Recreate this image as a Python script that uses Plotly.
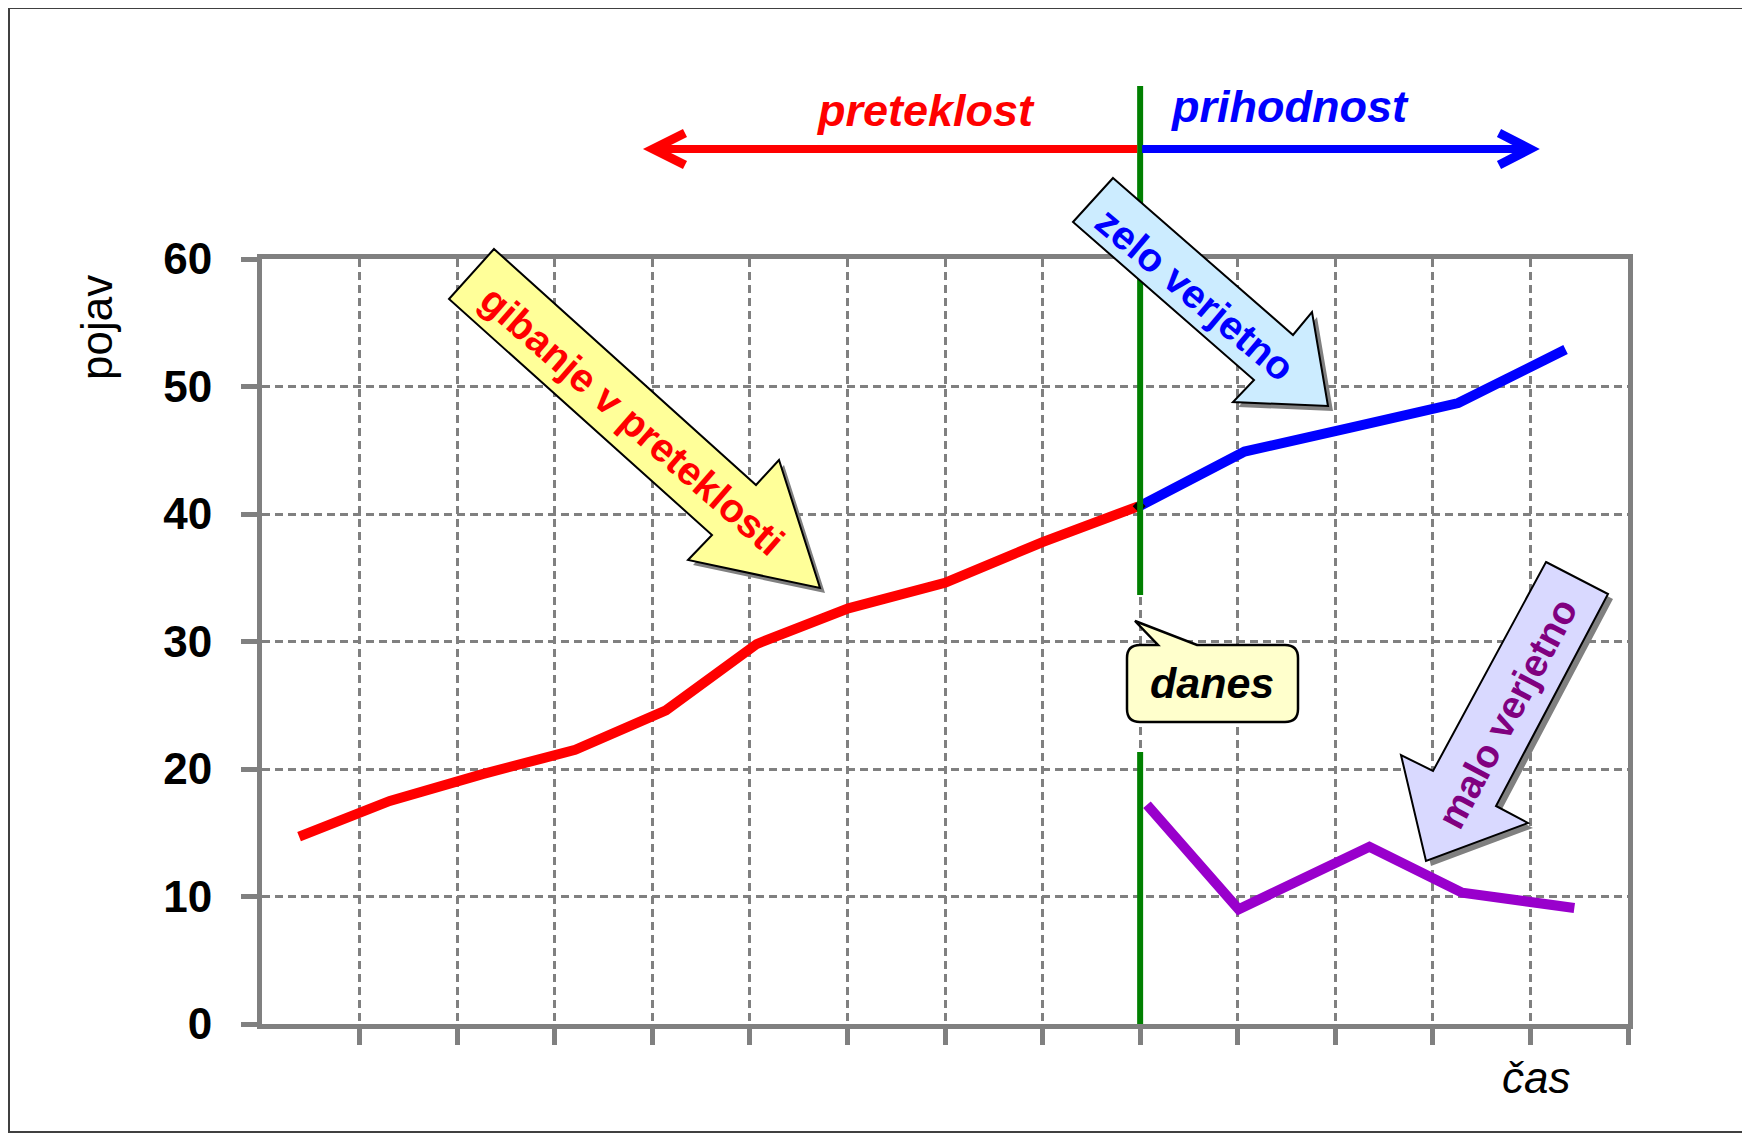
import plotly.graph_objects as go

# ---------------- data ----------------
# time positions are in "category units" of the x axis (0..14)
past_t = [0.38, 1.31, 2.26, 3.21, 4.14, 5.07, 6.01, 7.0, 8.0, 8.98]
past_v = [14.7, 17.5, 19.6, 21.5, 24.6, 29.8, 32.6, 34.6, 37.8, 40.6]
likely_t = [8.99, 10.07, 11.17, 12.26, 13.36]
likely_v = [40.6, 44.9, 46.8, 48.7, 52.9]
unlikely_t = [9.07, 10.01, 11.35, 12.3, 13.45]
unlikely_v = [17.2, 9.0, 13.9, 10.3, 9.1]
y_ticks = [0, 10, 20, 30, 40, 50, 60]
x_bounds = list(range(1, 15))
today_t = 9

FONT = "Liberation Sans, Arial, sans-serif"
GREY = "#808080"

# ---------------- layout geometry ----------------
# the page body has an 8px margin, so the figure is placed 8px in
WIDTH, HEIGHT = 1750, 1134
BODY = 8
REF_L, REF_T = 262, 259          # plot-area corner in screenshot pixels
PW, PH = 1366, 765
L, T = REF_L - BODY, REF_T - BODY
R, B = WIDTH - L - PW, HEIGHT - T - PH


def px(x):
    return (x - REF_L) / PW


def py(y):
    return (REF_T + PH - y) / PH


def poly_path(pts, dx=0, dy=0):
    s = ""
    for i, (x, y) in enumerate(pts):
        s += ("M" if i == 0 else "L") + f"{px(x + dx):.5f},{py(y + dy):.5f} "
    return s + "Z"


fig = go.Figure()

fig.add_trace(go.Scatter(x=past_t, y=past_v, mode="lines",
                         line=dict(color="#FF0000", width=10), name="preteklost",
                         hoverinfo="skip"))
fig.add_trace(go.Scatter(x=likely_t, y=likely_v, mode="lines",
                         line=dict(color="#0000FF", width=10), name="zelo verjetno",
                         hoverinfo="skip"))
fig.add_trace(go.Scatter(x=unlikely_t, y=unlikely_v, mode="lines",
                         line=dict(color="#9900CC", width=10), name="malo verjetno",
                         hoverinfo="skip"))
fig.add_trace(go.Scatter(x=[likely_t[0]], y=[likely_v[0]], mode="markers",
                         marker=dict(symbol="diamond", color="black", size=10),
                         hoverinfo="skip"))

shapes = []

# outer frame
shapes.append(dict(type="rect", xref="paper", yref="paper",
                   x0=px(9), x1=px(1748), y0=py(8), y1=py(1132),
                   line=dict(color="#404040", width=2), fillcolor="rgba(0,0,0,0)",
                   layer="below"))

# "today" green line (two pieces around the callout)
shapes.append(dict(type="line", xref="x", yref="paper", x0=today_t, x1=today_t,
                   y0=py(86), y1=py(595), line=dict(color="#008000", width=6)))
shapes.append(dict(type="line", xref="x", yref="paper", x0=today_t, x1=today_t,
                   y0=py(752), y1=py(1024), line=dict(color="#008000", width=6)))

# top arrows: past (red) and future (blue)
gx = REF_L + today_t * PW / 14
shapes.append(dict(type="line", xref="paper", yref="paper", x0=px(655), x1=px(gx - 3),
                   y0=py(149), y1=py(149), line=dict(color="#FF0000", width=8)))
shapes.append(dict(type="path", xref="paper", yref="paper",
                   path=f"M{px(685):.5f},{py(133):.5f} L{px(653):.5f},{py(149):.5f} L{px(685):.5f},{py(165):.5f}",
                   line=dict(color="#FF0000", width=9)))
shapes.append(dict(type="line", xref="paper", yref="paper", x0=px(gx + 2), x1=px(1527),
                   y0=py(149), y1=py(149), line=dict(color="#0000FF", width=8)))
shapes.append(dict(type="path", xref="paper", yref="paper",
                   path=f"M{px(1499):.5f},{py(133):.5f} L{px(1530):.5f},{py(149):.5f} L{px(1499):.5f},{py(165):.5f}",
                   line=dict(color="#0000FF", width=9)))

# block arrows (pixel outlines)
gib = [(494, 249), (756, 485), (779, 460), (820, 588), (688, 560), (712, 535), (449, 299)]
zelo = [(1113, 178), (1293, 335), (1312, 312), (1328, 406), (1233, 402), (1254, 380), (1073, 222)]
malo = [(1546, 562), (1608, 594), (1496, 806), (1528, 823), (1426, 861), (1401, 755), (1433, 771)]

for pts, fill in [(gib, "#FFFF99"), (zelo, "#CCECFF"), (malo, "#D9D9FF")]:
    shapes.append(dict(type="path", xref="paper", yref="paper", path=poly_path(pts, 5, 5),
                       fillcolor=GREY, line=dict(width=0)))
    shapes.append(dict(type="path", xref="paper", yref="paper", path=poly_path(pts),
                       fillcolor=fill, line=dict(color="black", width=2)))

# "danes" callout
x1, x2, y1, y2, r = 1127, 1298, 645, 722, 13
P = lambda x, y: f"{px(x):.5f},{py(y):.5f}"
call = (f"M{P(x1 + r, y1)} L{P(1158, y1)} L{P(1135, 621)} L{P(1197, y1)} L{P(x2 - r, y1)} "
        f"Q{P(x2, y1)} {P(x2, y1 + r)} L{P(x2, y2 - r)} Q{P(x2, y2)} {P(x2 - r, y2)} "
        f"L{P(x1 + r, y2)} Q{P(x1, y2)} {P(x1, y2 - r)} L{P(x1, y1 + r)} Q{P(x1, y1)} {P(x1 + r, y1)} Z")
shapes.append(dict(type="path", xref="paper", yref="paper", path=call,
                   fillcolor="#FFFFCC", line=dict(color="black", width=2.5)))

annotations = []


def ann(text, x, y, size, color="black", weight="normal", style="normal", angle=0):
    annotations.append(dict(text=text, xref="paper", yref="paper", x=px(x), y=py(y),
                            xanchor="center", yanchor="middle", showarrow=False,
                            textangle=angle,
                            font=dict(family=FONT, size=size, color=color,
                                      weight=weight, style=style)))


ann("pojav", 96, 328, 44, angle=-90)
ann("čas", 1536, 1077, 44, style="italic")
ann("preteklost", 926, 110, 45, color="#FF0000", weight="bold", style="italic")
ann("prihodnost", 1290, 106, 45, color="#0000FF", weight="bold", style="italic")
ann("danes", 1212, 683, 43, weight="bold", style="italic")
ann("gibanje v preteklosti", 632, 420, 40, color="#FF0000", weight="bold", angle=41)
ann("zelo verjetno", 1195, 294, 40, color="#0000FF", weight="bold", angle=40)
ann("malo verjetno", 1507, 713, 39, color="#800080", weight="bold", angle=-62)

fig.update_layout(
    width=WIDTH, height=HEIGHT,
    margin=dict(l=L, r=R, t=T, b=B, pad=0),
    paper_bgcolor="white", plot_bgcolor="white",
    showlegend=False,
    shapes=shapes, annotations=annotations,
    xaxis=dict(range=[0, 14], tickmode="array", tickvals=x_bounds, showticklabels=False,
               ticks="outside", ticklen=16, tickwidth=5, tickcolor=GREY,
               showgrid=True, gridcolor=GREY, gridwidth=2.5, griddash="8px,5px",
               showline=True, linecolor=GREY, linewidth=5, mirror=True, zeroline=False,
               fixedrange=True),
    yaxis=dict(range=[0, 60], tickmode="array", tickvals=y_ticks,
               ticktext=[str(v) for v in y_ticks],
               ticks="outside", ticklen=16, tickwidth=5, tickcolor=GREY,
               ticklabelstandoff=20,
               tickfont=dict(family=FONT, size=44, color="black", weight="bold"),
               showgrid=True, gridcolor=GREY, gridwidth=2.5, griddash="8px,5px",
               showline=True, linecolor=GREY, linewidth=5, mirror=True, zeroline=False,
               fixedrange=True),
)

fig.write_html("out.html")
